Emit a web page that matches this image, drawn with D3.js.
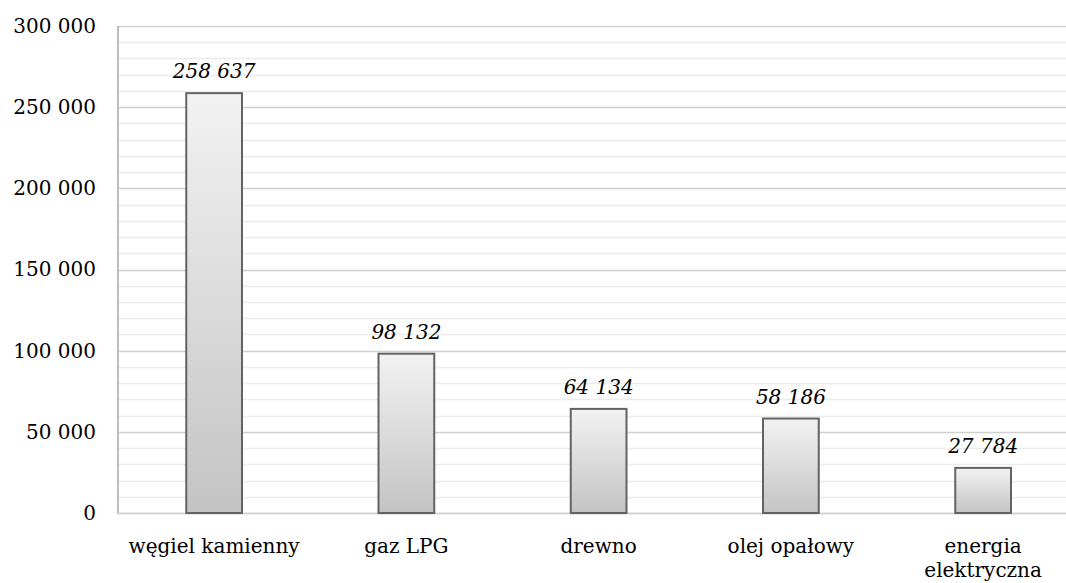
<!DOCTYPE html>
<html><head><meta charset="utf-8">
<script src="https://cdn.jsdelivr.net/npm/d3@7"></script>
<style>body{margin:0;background:#fff}svg{display:block}text{font-family:"DejaVu Serif",serif}</style>
</head><body><svg id="c" width="1066" height="583"></svg>
<script>
const categories = ["węgiel kamienny", "gaz LPG", "drewno", "olej opałowy", "energia elektryczna"];
const values = [258637, 98132, 64134, 58186, 27784];
const yTicks = [0, 50000, 100000, 150000, 200000, 250000, 300000];

const svg = d3.select("#c");
const m = {l:118, t:26, b:513};
const bandW = 192.25;
const x = d3.scaleBand().domain(categories).range([m.l, m.l + bandW*categories.length]).paddingInner(0.71).paddingOuter(0.355);
const y = d3.scaleLinear().domain([0, 300000]).range([m.b, m.t]);
const fmt = v => d3.format(",")(v).replace(/,/g, " ");
const FS = 20;

const defs = svg.append("defs");
const g = defs.append("linearGradient").attr("id","bg").attr("x1",0).attr("y1",0).attr("x2",0).attr("y2",1);
g.append("stop").attr("offset","0%").attr("stop-color","#f2f2f2");
g.append("stop").attr("offset","100%").attr("stop-color","#c4c4c4");

// minor grid
const minor = d3.range(10000, 300001, 10000).filter(v => v % 50000 !== 0);
svg.append("g").selectAll("line").data(minor).join("line")
  .attr("x1", m.l).attr("x2", 1066).attr("y1", d=>Math.round(y(d))+0.5).attr("y2", d=>Math.round(y(d))+0.5)
  .attr("stroke","#ececec").attr("stroke-width",1.5);
// major grid
svg.append("g").selectAll("line").data(yTicks.filter(v=>v>0)).join("line")
  .attr("x1", m.l).attr("x2", 1066).attr("y1", d=>Math.round(y(d))+0.5).attr("y2", d=>Math.round(y(d))+0.5)
  .attr("stroke","#d0d0d0").attr("stroke-width",1.5);

// axes lines
svg.append("line").attr("x1", m.l).attr("x2", m.l).attr("y1", m.t).attr("y2", m.b+1).attr("stroke","#bdbdbd").attr("stroke-width",2);
svg.append("line").attr("x1", m.l).attr("x2", 1066).attr("y1", m.b+0.5).attr("y2", m.b+0.5).attr("stroke","#d4d4d4").attr("stroke-width",2);

// y tick labels
const yAxis = d3.axisLeft(y).tickValues(yTicks).tickFormat(fmt).tickSize(0).tickPadding(22);
const ya = svg.append("g").attr("transform",`translate(${m.l},0)`).call(yAxis);
ya.select(".domain").remove();
ya.selectAll("text").attr("font-family","DejaVu Serif").attr("font-size",FS).attr("fill","#000");

// bars
svg.append("g").selectAll("rect").data(values).join("rect")
  .attr("x",(d,i)=>x(categories[i])).attr("width",x.bandwidth())
  .attr("y",d=>y(d)).attr("height",d=>m.b-y(d))
  .attr("fill","url(#bg)").attr("stroke","#636363").attr("stroke-width",2);

// value labels
svg.append("g").selectAll("text").data(values).join("text")
  .attr("x",(d,i)=>x(categories[i])+x.bandwidth()/2).attr("y",d=>y(d)-15)
  .attr("text-anchor","middle").attr("font-style","italic").attr("font-size",FS).attr("fill","#000")
  .text(fmt);

// x labels
const xa = svg.append("g").selectAll("text").data(categories).join("text")
  .attr("x",d=>x(d)+x.bandwidth()/2).attr("y",553).attr("text-anchor","middle").attr("font-size",FS).attr("fill","#000");
xa.each(function(d){
  const t = d3.select(this);
  const parts = d === "energia elektryczna" ? ["energia","elektryczna"] : [d];
  parts.forEach((p,i)=>t.append("tspan").attr("x",t.attr("x")).attr("dy", i?24:0).text(p));
});
</script></body></html>
